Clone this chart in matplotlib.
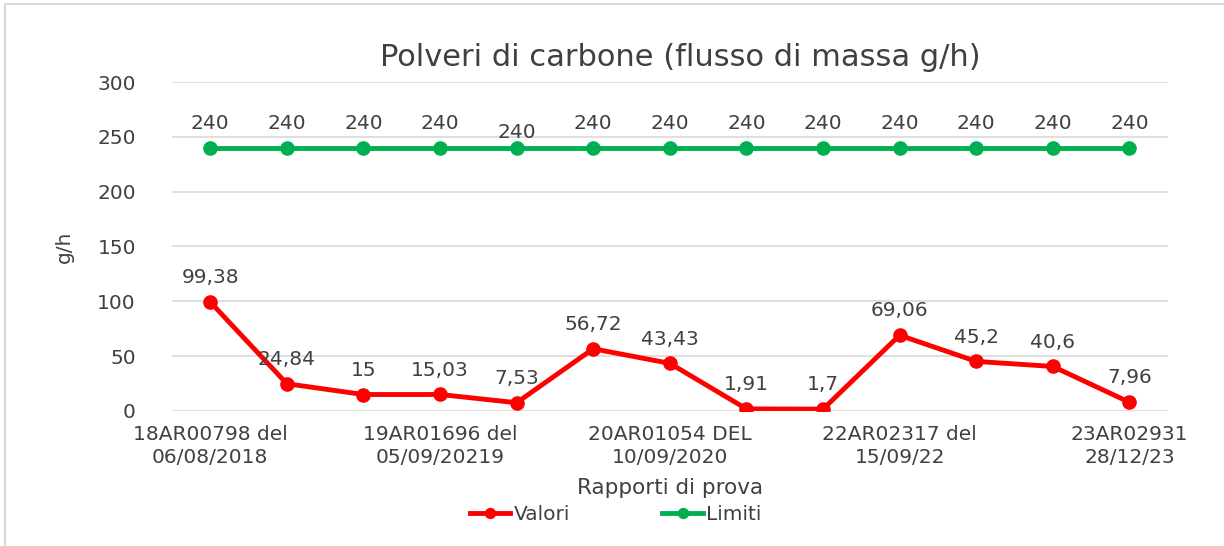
import matplotlib
matplotlib.use("Agg")
import matplotlib.pyplot as plt
from matplotlib.lines import Line2D

plt.rcParams['font.family'] = ['DejaVu Sans']

valori = [99.38, 24.84, 15, 15.03, 7.53, 56.72, 43.43, 1.91, 1.7, 69.06, 45.2, 40.6, 7.96]
valori_txt = ['99,38', '24,84', '15', '15,03', '7,53', '56,72', '43,43', '1,91', '1,7',
              '69,06', '45,2', '40,6', '7,96']
limiti = [240] * 13
tick_pos = [0, 3, 6, 9, 12]
tick_labels = ['18AR00798 del\n06/08/2018', '19AR01696 del\n05/09/20219',
               '20AR01054 DEL\n10/09/2020', '22AR02317 del\n15/09/22',
               '23AR02931\n28/12/23']

red = '#FF0000'
green = '#00B050'
txt = '#404040'
fs = 14.5

fig = plt.figure(figsize=(12.24, 5.46), dpi=100)
ax = fig.add_axes([0.1405, 0.2473, 0.8135, 0.6025])

x = list(range(len(valori)))
ax.plot(x, valori, color=red, lw=3.5, marker='o', ms=9.5, label='Valori', zorder=3)
ax.plot(x, limiti, color=green, lw=3.5, marker='o', ms=9.5, label='Limiti', zorder=3)

for i, (v, t) in enumerate(zip(valori, valori_txt)):
    ax.annotate(t, (i, v), xytext=(0, 17.5), textcoords='offset points',
                ha='center', va='center', fontsize=fs, color=txt)
for i, v in enumerate(limiti):
    dy = 11 if i == 4 else 17.5
    ax.annotate(str(v), (i, v), xytext=(0, dy), textcoords='offset points',
                ha='center', va='center', fontsize=fs, color=txt)

ax.set_xlim(-0.5, 12.5)
ax.set_ylim(0, 300)
ax.set_yticks(range(0, 301, 50))
ax.set_xticks(tick_pos)
ax.set_xticklabels(tick_labels, fontsize=fs, color=txt, linespacing=1.3)
ax.tick_params(axis='y', labelsize=fs, labelcolor=txt, length=0, pad=26)
ax.tick_params(axis='x', length=0, pad=10)
ax.grid(axis='y', color='#D9D9D9', lw=1.2)
ax.set_axisbelow(True)
for s in ax.spines.values():
    s.set_visible(False)

ax.set_ylabel('g/h', fontsize=fs, color=txt, labelpad=17)
ax.set_xlabel('Rapporti di prova', fontsize=15.5, color=txt, labelpad=8)
fig.text(0.556, 0.895, 'Polveri di carbone (flusso di massa g/h)', ha='center',
         va='center', fontsize=22, color=txt)

fig.legend(loc='center', bbox_to_anchor=(0.503, 0.057), ncol=2, frameon=False,
           fontsize=14.5, handlelength=2.0, columnspacing=4.6, handletextpad=0.15,
           labelcolor=txt, markerscale=0.75)

fig.add_artist(Line2D([0.004, 1.0], [0.993, 0.993], transform=fig.transFigure,
                      color='#D9D9D9', lw=1.5))
fig.add_artist(Line2D([0.004, 0.004], [0.0, 0.993], transform=fig.transFigure,
                      color='#D9D9D9', lw=1.5))

fig.savefig('out.png', dpi=100)
